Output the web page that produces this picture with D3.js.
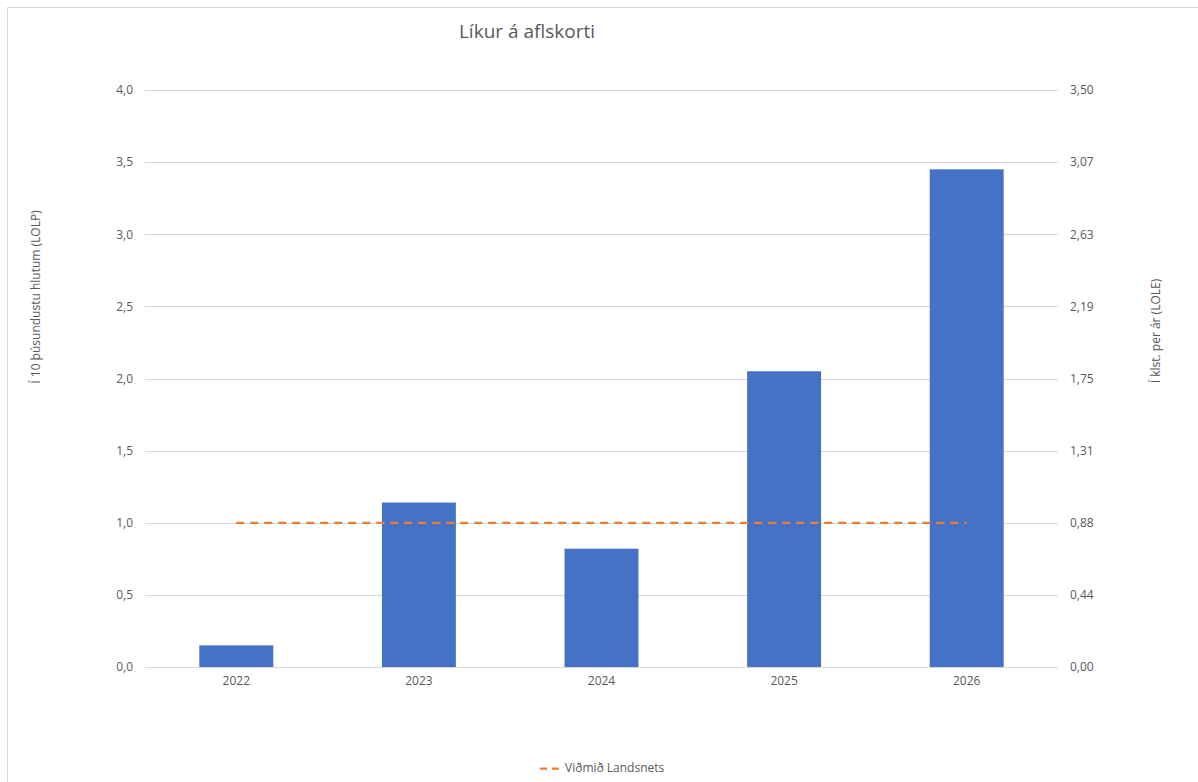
<!DOCTYPE html>
<html>
<head>
<meta charset="utf-8">
<script src="https://cdn.jsdelivr.net/npm/d3@7"></script>
<style>
  body { margin: 0; background: #fff; }
  text { font-family: "Open Sans", "Noto Sans", sans-serif; fill: #595959; }
</style>
</head>
<body>
<svg id="chart" width="1198" height="782"></svg>
<script>
const years = ["2022", "2023", "2024", "2025", "2026"];
const lolp = [0.15, 1.14, 0.82, 2.05, 3.45];
const benchmark = [1.0, 1.0, 1.0, 1.0, 1.0];
const leftTicks = [0, 0.5, 1.0, 1.5, 2.0, 2.5, 3.0, 3.5, 4.0];
const rightTickLabels = ["0,00", "0,44", "0,88", "1,31", "1,75", "2,19", "2,63", "3,07", "3,50"];
const title = "Líkur á aflskorti";
const leftLabel = "Í 10 þúsundustu hlutum (LOLP)";
const rightLabel = "Í klst. per ár (LOLE)";
const legendLabel = "Viðmið Landsnets";

const svg = d3.select("#chart");
const m = { left: 145, right: 1058, top: 90, bottom: 667 };

// outer border
svg.append("rect").attr("x", 7.5).attr("y", 7.5).attr("width", 1200).attr("height", 800)
  .attr("fill", "none").attr("stroke", "#d9d9d9").attr("stroke-width", 1);

const x = d3.scaleBand().domain(years).range([m.left, m.right]).paddingInner(0.595).paddingOuter(0.2975);
const y = d3.scaleLinear().domain([0, 4]).range([m.bottom, m.top]);
const y2 = d3.scaleLinear().domain([0, 3.5]).range([m.bottom, m.top]);

// gridlines
svg.append("g").selectAll("line").data(leftTicks).join("line")
  .attr("x1", m.left).attr("x2", m.right)
  .attr("y1", d => Math.round(y(d)) + 0.5).attr("y2", d => Math.round(y(d)) + 0.5)
  .attr("stroke", "#d9d9d9").attr("stroke-width", 1);

// left axis
const fmt1 = d => d.toFixed(1).replace(".", ",");
const gl = svg.append("g").attr("transform", `translate(${m.left - 12},0)`)
  .call(d3.axisLeft(y).tickValues(leftTicks).tickFormat(fmt1).tickSize(0).tickPadding(0));
gl.select(".domain").remove();
gl.selectAll("text").attr("font-size", 12).attr("fill", "#595959").style("font-family", '"Open Sans", sans-serif');

// right axis
const rightVals = rightTickLabels.map((s, i) => i * 3.5 / 8);
const gr = svg.append("g").attr("transform", `translate(${m.right + 12},0)`)
  .call(d3.axisRight(y2).tickValues(rightVals).tickFormat((d, i) => rightTickLabels[i]).tickSize(0).tickPadding(0));
gr.select(".domain").remove();
gr.selectAll("text").attr("font-size", 12).attr("fill", "#595959").style("font-family", '"Open Sans", sans-serif');

// bottom axis
const gb = svg.append("g").attr("transform", `translate(0,${m.bottom + 14})`)
  .call(d3.axisBottom(x).tickSize(0).tickPadding(0));
gb.select(".domain").remove();
gb.selectAll("text").attr("font-size", 12).attr("fill", "#595959").attr("dy", "0.35em").style("font-family", '"Open Sans", sans-serif');

// bars
svg.append("g").selectAll("rect").data(years).join("rect")
  .attr("x", d => x(d)).attr("width", x.bandwidth())
  .attr("y", (d, i) => y(lolp[i])).attr("height", (d, i) => y(0) - y(lolp[i]))
  .attr("fill", "#4472C4");

// benchmark line
const line = d3.line().x((d, i) => x(years[i]) + x.bandwidth() / 2).y(d => y(d));
svg.append("path").datum(benchmark).attr("d", line)
  .attr("fill", "none").attr("stroke", "#ED7D31").attr("stroke-width", 2.25)
  .attr("stroke-dasharray", "8,6");

// title
svg.append("text").attr("x", 527).attr("y", 38).attr("text-anchor", "middle")
  .attr("font-size", 19).text(title);

// axis titles
svg.append("text").attr("transform", `translate(40,297) rotate(-90)`)
  .attr("text-anchor", "middle").attr("font-size", 12).text(leftLabel);
svg.append("text").attr("transform", `translate(1160,331) rotate(-90)`)
  .attr("text-anchor", "middle").attr("font-size", 12).text(rightLabel);

// legend
svg.append("line").attr("x1", 540).attr("x2", 561).attr("y1", 768.5).attr("y2", 768.5)
  .attr("stroke", "#ED7D31").attr("stroke-width", 2.25).attr("stroke-dasharray", "7,5");
svg.append("text").attr("x", 565).attr("y", 768).attr("dy", "0.35em").attr("font-size", 12).text(legendLabel);
</script>
</body>
</html>
